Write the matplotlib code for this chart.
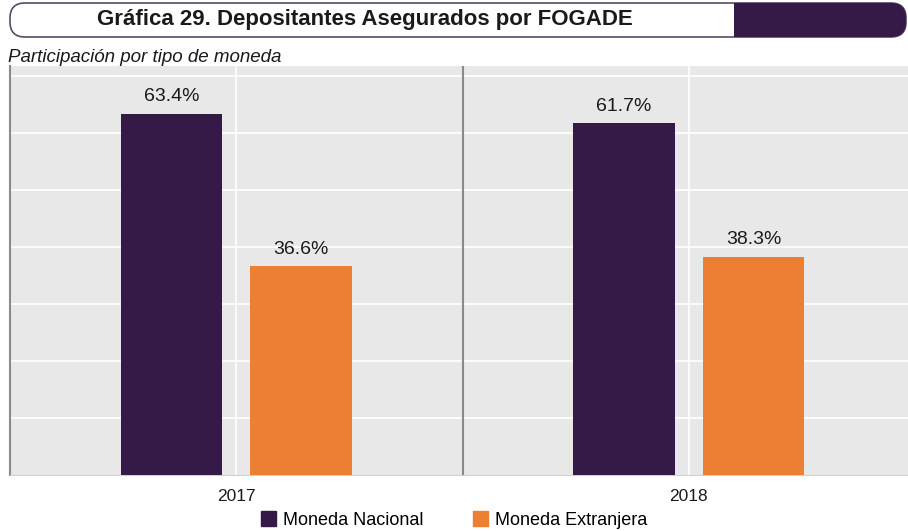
import numpy as np
import matplotlib.pyplot as plt
from matplotlib.patches import FancyBboxPatch, Rectangle, Patch

years = ['2017', '2018']
nacional = [63.4, 61.7]
extranjera = [36.6, 38.3]
series_names = ['Moneda Nacional', 'Moneda Extranjera']

purple = '#351a47'
orange = '#ed7f33'
plt.rcParams['font.family'] = ['Liberation Sans', 'DejaVu Sans']

fig = plt.figure(figsize=(9.08, 5.31), dpi=100)

# header band drawn in pixel coords
deco = fig.add_axes([0, 0, 1, 1], zorder=0)
deco.set_xlim(0, 908)
deco.set_ylim(531, 0)
deco.axis('off')
box = FancyBboxPatch((10, 3), 896, 34, boxstyle='round,pad=0,rounding_size=15',
                     facecolor='white', edgecolor='#5a4a66', linewidth=1.2)
deco.add_patch(box)
dark = Rectangle((734, 0), 200, 45, facecolor=purple, edgecolor='none')
deco.add_patch(dark)
dark.set_clip_path(box)
deco.text(365, 20, 'Gráfica 29. Depositantes Asegurados por FOGADE', ha='center', va='center',
          fontsize=16, fontweight='bold', color='#1a1a1a')
deco.text(8, 58, 'Participación por tipo de moneda', ha='left', va='center',
          fontsize=13.5, style='italic', color='#1a1a1a')

ax = fig.add_axes([10 / 908, 56 / 531, 905 / 908, 409.3 / 531], zorder=1)
ax.set_facecolor('#e8e8e8')
x = np.arange(len(years))
w = 0.225
b1 = ax.bar(x - 0.143, nacional, w, color=purple, zorder=3)
b2 = ax.bar(x + 0.143, extranjera, w, color=orange, zorder=3)
for bars, vals in [(b1, nacional), (b2, extranjera)]:
    for r, v in zip(bars, vals):
        ax.text(r.get_x() + r.get_width() / 2, v + 1.5, f'{v:.1f}%', ha='center', va='bottom',
                fontsize=14, color='#1a1a1a', zorder=4)

ax.set_xlim(-0.5, 1.5)
ax.set_ylim(0, 71.8)
ax.set_yticks(np.arange(10, 71, 10))
ax.set_yticklabels([])
ax.set_xticks(x)
ax.set_xticklabels(years, fontsize=12.5, color='#1a1a1a')
ax.tick_params(length=0, pad=10)
ax.grid(True, color='white', linewidth=1.2, zorder=0)
ax.set_axisbelow(True)
ax.axvline(0.5, color='#8a8a8a', linewidth=1.5, zorder=2)
for s in ['top', 'right']:
    ax.spines[s].set_visible(False)
ax.spines['left'].set_color('#8a8a8a')
ax.spines['left'].set_linewidth(1.5)
ax.spines['bottom'].set_color('#d0d0d0')

handles = [Patch(color=purple), Patch(color=orange)]
fig.legend(handles, series_names, loc='center', bbox_to_anchor=(454 / 908, 1 - 520 / 531),
           ncol=2, frameon=False, fontsize=13, handlelength=0.85, handleheight=0.85,
           handletextpad=0.4, columnspacing=2.7, borderpad=0)

fig.savefig('out.png', dpi=100)
